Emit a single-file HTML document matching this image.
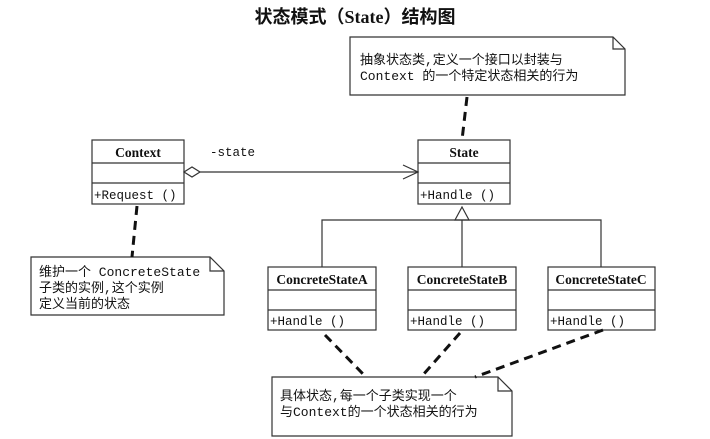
<!DOCTYPE html>
<html><head><meta charset="utf-8"><style>body{margin:0;background:#fff}svg{display:block}</style></head><body>
<svg width="710" height="439" xmlns="http://www.w3.org/2000/svg" font-family="'Liberation Mono','Noto Sans CJK SC',monospace" font-size="12.5" fill="#111">
<rect width="710" height="439" fill="#fff"/>
<text x="355" y="23" text-anchor="middle" font-family="'Liberation Serif','Noto Sans CJK SC',serif" font-size="18" font-weight="bold">状态模式（State）结构图</text>
<g stroke="#333" fill="none" stroke-width="1.2">
<path d="M350,37 H613 L625,49 V95 H350 Z"/><path d="M613,37 V49 H625"/>
<path d="M31,257 H210 L224,271 V315 H31 Z"/><path d="M210,257 V271 H224"/>
<path d="M272,377 H498 L512,391 V436 H272 Z"/><path d="M498,377 V391 H512"/>
<rect x="92" y="140" width="92" height="64"/><line x1="92" y1="163" x2="184" y2="163"/><line x1="92" y1="183" x2="184" y2="183"/>
<rect x="418" y="140" width="92" height="64"/><line x1="418" y1="163" x2="510" y2="163"/><line x1="418" y1="183" x2="510" y2="183"/>
<rect x="268" y="267" width="108" height="63"/><line x1="268" y1="290" x2="376" y2="290"/><line x1="268" y1="310" x2="376" y2="310"/>
<rect x="408" y="267" width="108" height="63"/><line x1="408" y1="290" x2="516" y2="290"/><line x1="408" y1="310" x2="516" y2="310"/>
<rect x="548" y="267" width="107" height="63"/><line x1="548" y1="290" x2="655" y2="290"/><line x1="548" y1="310" x2="655" y2="310"/>
<path d="M184,172 L192,167 L200,172 L192,177 Z"/>
<line x1="200" y1="172" x2="418" y2="172"/>
<path d="M403,165 L418,172 L403,179"/>
<path d="M462,207 L455,220 H469 Z"/>
<path d="M322,267 V220 H601 V267 M462,220 V267"/>
</g>
<g stroke="#111" stroke-width="3" stroke-dasharray="9,6" fill="none">
<line x1="467" y1="97" x2="462" y2="140"/>
<line x1="137" y1="206" x2="132" y2="257"/>
<line x1="325" y1="335" x2="365" y2="376"/>
<line x1="460" y1="333" x2="422" y2="376"/>
<line x1="603" y1="330" x2="475" y2="377"/>
</g>
<g font-weight="bold" text-anchor="middle" font-family="'Liberation Serif',serif" font-size="13.5">
<text x="138" y="157">Context</text>
<text x="464" y="157">State</text>
<text x="322" y="284">ConcreteStateA</text>
<text x="462" y="284">ConcreteStateB</text>
<text x="601" y="284">ConcreteStateC</text>
</g>
<text x="94" y="199">+Request ()</text>
<text x="420" y="199">+Handle ()</text>
<text x="270" y="325">+Handle ()</text>
<text x="410" y="325">+Handle ()</text>
<text x="550" y="325">+Handle ()</text>
<text x="210" y="156">-state</text>
<text x="360" y="64" font-size="13">抽象状态类,定义一个接口以封装与</text>
<text x="360" y="80" font-size="13">Context 的一个特定状态相关的行为</text>
<text x="39" y="276" font-size="13">维护一个 ConcreteState</text>
<text x="39" y="292" font-size="13">子类的实例,这个实例</text>
<text x="39" y="308" font-size="13">定义当前的状态</text>
<text x="280" y="400" font-size="13">具体状态,每一个子类实现一个</text>
<text x="280" y="416" font-size="13">与Context的一个状态相关的行为</text>
</svg>
</body></html>
